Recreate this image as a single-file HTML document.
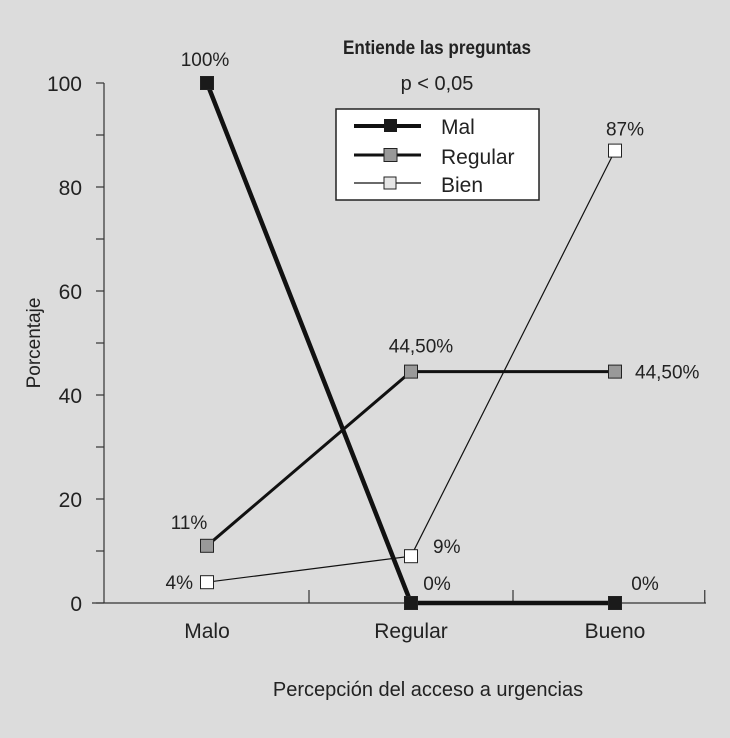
<!DOCTYPE html>
<html><head><meta charset="utf-8"><style>
html,body{margin:0;padding:0;background:#dcdcdc;}
svg{display:block;font-family:"Liberation Sans",sans-serif;}
text{fill:#222;}
</style></head><body>
<svg width="730" height="738" viewBox="0 0 730 738">
<rect width="730" height="738" fill="#dcdcdc"/>
<g id="axes"></g>
<g id="series"></g>
<text x="437" y="54" text-anchor="middle" font-size="19" font-weight="bold" transform="translate(437 0) scale(0.9 1) translate(-437 0)">Entiende las preguntas</text>
<text x="437" y="90" text-anchor="middle" font-size="20">p &lt; 0,05</text>
<text x="40" y="343" text-anchor="middle" font-size="19" transform="rotate(-90 40 343)">Porcentaje</text>
<text x="428" y="696" text-anchor="middle" font-size="20">Percepción del acceso a urgencias</text>
<g>
<rect x="336" y="109" width="203" height="91" fill="#fff" stroke="#222" stroke-width="1.5"/>
<g><line x1="354" y1="126" x2="421" y2="126" stroke="#111" stroke-width="4"/><rect x="384" y="119" width="13" height="13" fill="#1a1a1a"/><text x="441" y="134" font-size="21">Mal</text></g>
<g><line x1="354" y1="155" x2="421" y2="155" stroke="#111" stroke-width="3"/><rect x="384" y="148.5" width="13" height="13" fill="#999" stroke="#222"/><text x="441" y="164" font-size="21">Regular</text></g>
<g><line x1="354" y1="183" x2="421" y2="183" stroke="#111" stroke-width="1.2"/><rect x="384" y="177" width="12" height="12" fill="#e6e6e6" stroke="#222"/><text x="441" y="192" font-size="21">Bien</text></g>
</g>
</svg>
<script>
const categories=["Malo","Regular","Bueno"];
const mal=[100,0,0];
const regular=[11,44.5,44.5];
const bien=[4,9,87];
const malLabels=["100%","0%","0%"];
const regularLabels=["11%","44,50%","44,50%"];
const bienLabels=["4%","9%","87%"];
const yTicks=[0,20,40,60,80,100];
const NS="http://www.w3.org/2000/svg";
const xs=i=>207+i*204;
const ys=v=>603-v*5.2;
function mk(t,a,p){const e=document.createElementNS(NS,t);for(const k in a)e.setAttribute(k,a[k]);p.appendChild(e);return e;}
const ax=document.getElementById('axes');
const yl=mk('line',{x1:104,y1:ys(100),x2:104,y2:ys(0),stroke:'#333','stroke-width':1.2},ax);


const xl=mk('line',{x1:92,y1:603,x2:706,y2:603,stroke:'#333','stroke-width':1.2},ax);


for(let v=0;v<=100;v+=10){const t=mk('line',{x1:96,y1:ys(v),x2:104,y2:ys(v),stroke:'#333','stroke-width':1.2},ax);

}
yTicks.forEach(v=>{const t=mk('text',{x:82,y:ys(v)+8,'text-anchor':'end','font-size':21},ax);t.textContent=v;

});
[0.5,1.5,2.44].forEach(i=>{const t=mk('line',{x1:xs(i),y1:603,x2:xs(i),y2:590,stroke:'#333','stroke-width':1.2},ax);

});
categories.forEach((c,i)=>{const t=mk('text',{x:xs(i),y:638,'text-anchor':'middle','font-size':21},ax);t.textContent=c;

});
const sg=document.getElementById('series');
function series(name,vals,labels,sw,fill,ms,offs){
 const g=mk('g',{},sg);
 
 
 mk('polyline',{points:vals.map((v,i)=>xs(i)+','+ys(v)).join(' '),fill:'none',stroke:'#111','stroke-width':sw},g);
 vals.forEach((v,i)=>{const r=mk('rect',{x:xs(i)-ms/2,y:ys(v)-ms/2,width:ms,height:ms,fill:fill,stroke:'#222','stroke-width':1},g);
 
 
 const t=mk('text',{x:xs(i)+offs[i][0],y:ys(v)+offs[i][1],'text-anchor':offs[i][2],'font-size':19},g);t.textContent=labels[i];
 
 });
}
series('bien',bien,bienLabels,1.2,'#fff',13,[[-14,7,'end'],[22,-3,'start'],[10,-15,'middle']]);
series('regular',regular,regularLabels,3,'#999',13,[[-18,-17,'middle'],[10,-19,'middle'],[20,7,'start']]);
series('mal',mal,malLabels,4.5,'#1a1a1a',13,[[-2,-17,'middle'],[26,-13,'middle'],[30,-13,'middle']]);
</script>
</body></html>
